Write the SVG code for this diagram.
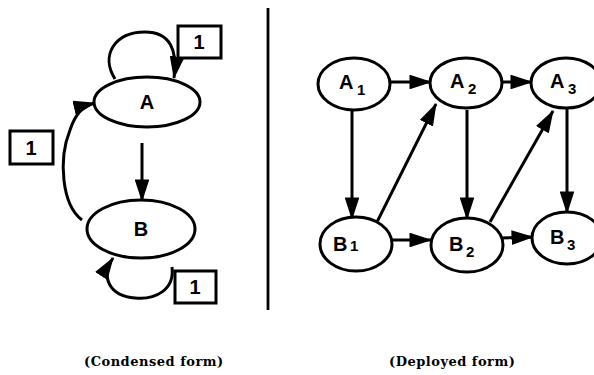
<svg xmlns="http://www.w3.org/2000/svg" width="594" height="375" viewBox="0 0 594 375">
<defs>
<marker id="ah" viewBox="0 0 20 13" refX="19" refY="6.5" markerWidth="7.6" markerHeight="4.9" orient="auto" markerUnits="strokeWidth">
<path d="M0,0 L20,6.5 L0,13 Z" fill="#000"/>
</marker>
<style>
.n{fill:#fff;stroke:#000;stroke-width:3}
.e{fill:none;stroke:#000;stroke-width:3;marker-end:url(#ah)}
.l{fill:none;stroke:#000;stroke-width:2.8}
.t{font-family:"Liberation Sans",Arial,sans-serif;font-weight:bold;font-size:20px;fill:#000}
.s{font-family:"Liberation Sans",Arial,sans-serif;font-weight:bold;font-size:15px;fill:#000}
.b{fill:#fff;stroke:#000;stroke-width:3}
.c{font-family:"DejaVu Serif",serif;font-weight:bold;font-size:13px;fill:#000;letter-spacing:0.5px}
</style>
</defs>
<g id="connectors">
<path class="e" d="M115,79 C100,55 115,32 145,32 C170,32 178,50 174,78"/>
<path class="e" d="M82,220 C62,205 58,160 70,130 C75,115 82,106 95,103"/>
<line class="e" x1="142" y1="143" x2="142" y2="201"/>
<path class="e" d="M172,267 C175,290 155,300 135,298 C110,296 100,278 113,258"/>
<line class="l" x1="268" y1="8" x2="268" y2="310"/>
<line class="e" x1="390" y1="82" x2="431" y2="82"/>
<line class="e" x1="502" y1="82" x2="532" y2="82"/>
<line class="e" x1="352" y1="110" x2="352" y2="219"/>
<line class="e" x1="467" y1="110" x2="467" y2="219"/>
<line class="e" x1="567" y1="107" x2="567" y2="213"/>
<line class="e" x1="390" y1="240" x2="431" y2="240"/>
<line class="e" x1="500" y1="238" x2="533" y2="237"/>
<line class="e" x1="377" y1="222" x2="436" y2="104"/>
<line class="e" x1="490" y1="222" x2="553" y2="111"/>
</g>
<g id="A"><ellipse class="n" cx="147" cy="102" rx="53" ry="25"/><text class="t" x="147" y="109" text-anchor="middle">A</text></g>
<g id="B"><ellipse class="n" cx="141" cy="229" rx="54" ry="29"/><text class="t" x="141" y="236" text-anchor="middle">B</text></g>
<g id="boxTop"><rect class="b" x="178" y="26" width="43" height="32"/><text class="t" x="199" y="49" text-anchor="middle">1</text></g>
<g id="boxLeft"><rect class="b" x="10" y="131" width="43" height="33"/><text class="t" x="31" y="155" text-anchor="middle">1</text></g>
<g id="boxBottom"><rect class="b" x="175" y="271" width="41" height="32"/><text class="t" x="195" y="294" text-anchor="middle">1</text></g>
<g id="A1"><ellipse class="n" cx="354" cy="84" rx="36" ry="26"/><text class="t" x="339" y="89">A</text><text class="s" x="357" y="95">1</text></g>
<g id="A2"><ellipse class="n" cx="466" cy="83" rx="36" ry="25"/><text class="t" x="450" y="88">A</text><text class="s" x="468" y="94">2</text></g>
<g id="A3"><ellipse class="n" cx="566" cy="83" rx="35" ry="25"/><text class="t" x="550" y="88">A</text><text class="s" x="568" y="94">3</text></g>
<g id="B1"><ellipse class="n" cx="356" cy="244" rx="36" ry="27"/><text class="t" x="333" y="251">B</text><text class="s" x="350" y="251">1</text></g>
<g id="B2"><ellipse class="n" cx="467" cy="245" rx="36" ry="27"/><text class="t" x="449" y="251">B</text><text class="s" x="466" y="257">2</text></g>
<g id="B3"><ellipse class="n" cx="567" cy="238" rx="35" ry="26"/><text class="t" x="550" y="244">B</text><text class="s" x="567" y="250">3</text></g>
<text class="c" x="84" y="366">(Condensed form)</text>
<text class="c" x="389" y="366">(Deployed form)</text>
</svg>
